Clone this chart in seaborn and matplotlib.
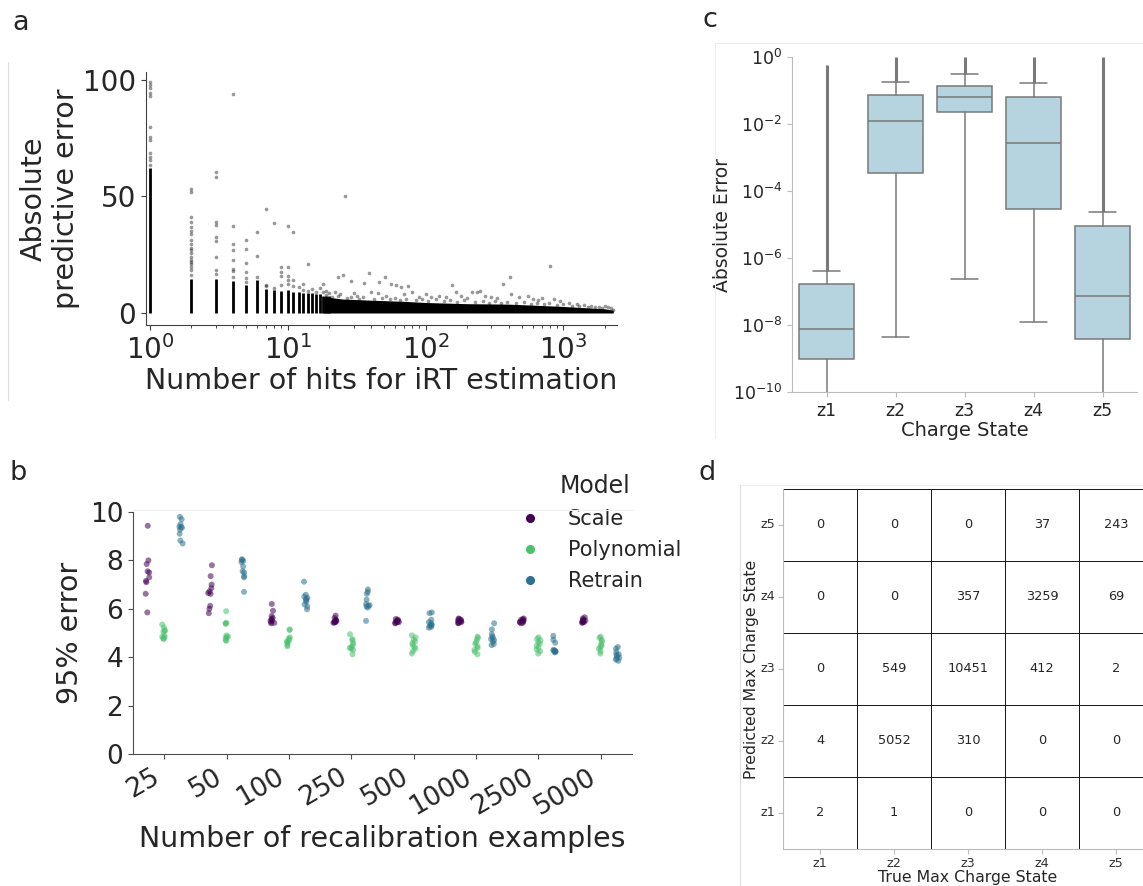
import numpy as np
import pandas as pd
import matplotlib
matplotlib.use("Agg")
import matplotlib.pyplot as plt
from matplotlib.colors import ListedColormap
from matplotlib.lines import Line2D
from matplotlib.ticker import NullLocator
import seaborn as sns

# ---------------- Panel a data ----------------
col_hits = [1, 2, 3, 4, 5, 6, 7, 8, 9, 10, 11, 12, 13, 14, 15, 16, 17, 18, 19, 20]
col_dense_top = [62, 14.5, 14.8, 13.8, 12, 14, 10.5, 10, 9.5, 10, 9, 9, 8.5, 8.5, 8.5, 8, 8, 7.5, 7.5, 7.2]
band_hits = [18, 25, 40, 70, 100, 200, 400, 700, 1000, 1500, 2000, 2300]
band_top = [7, 6, 5.5, 5, 4.5, 4, 3.8, 3.2, 2.8, 2.2, 1.8, 1.2]

col_outliers = {
    1: [99.3, 97.9, 96.4, 94.3, 92.9, 80, 75.7, 74.3, 68.6, 67.1, 65.7, 63.6],
    2: [53, 51.8, 41.2, 39, 36.9, 35.2, 34.1, 31.2, 29.8, 28.1, 27, 25.6, 24.1, 22.7, 22, 21, 19.6, 18.5, 16.3],
    3: [60.4, 58.2, 39, 37.6, 32.7, 31, 24, 18.5, 16.8],
    4: [94, 37.2, 29.8, 27, 22.7, 19, 18, 15.5],
    5: [31.5, 27.3, 21.3, 17.8, 15, 13.5],
    6: [34.8, 24.4, 15.5],
    7: [44.7, 12, 11.5],
    8: [38.4, 10.8],
    9: [19.9, 17.8, 16, 12],
    10: [37.4, 19.8, 16, 14, 12.5],
    11: [34.8, 14, 11.5],
    12: [11],
    13: [12.5, 10],
    14: [21, 9.5],
    15: [10.5],
    16: [9],
    17: [10.7],
    18: [12.3, 9],
    19: [9.5],
    20: [8.5],
}
scatter_hits = [22, 23.3, 25, 26, 24, 28.7, 30, 32, 36, 38.9, 40, 45, 46, 50.5, 52, 56, 61, 66.5, 74, 70,
                80, 90, 100, 110, 125, 140, 156, 165, 180, 200, 218, 236, 250, 270, 300, 330, 365, 410, 420,
                480, 550, 600, 650, 700, 800, 850, 950, 1100, 1250, 1400, 1600, 1800, 2000, 2200, 2300,
                19, 21, 23, 27, 29, 33, 35, 42, 48, 55, 60, 65, 72, 85, 95, 105, 120, 135, 150, 170, 190,
                230, 260, 290, 320, 350, 390, 450, 520, 580, 640, 720, 780, 900, 1000, 1150, 1300, 1500,
                1700, 1900, 2100]
scatter_err = [9.2, 15.3, 16.2, 50.4, 8, 13.6, 8.5, 7.2, 13, 17.3, 9, 8.5, 13.3, 15.6, 7.5, 12.6, 12.2, 11, 11.5, 8,
               9, 7, 8.2, 6.8, 7.5, 7, 11.8, 9, 7.5, 6.5, 8.8, 8.8, 9.5, 7.2, 7, 6.5, 12.4, 15.3, 8,
               6.8, 7.5, 6, 5.5, 6.5, 20, 5.8, 5, 4.5, 3.8, 3.5, 3.2, 2.5, 3, 2.2, 1.2,
               7.8, 6.8, 7.5, 6.5, 7, 6.2, 6.8, 6, 6.5, 5.8, 6.4, 5.6, 6.2, 5.5, 6, 5.2, 5.8, 5, 5.5, 4.8, 5.5,
               4.6, 5.2, 4.5, 5, 4.4, 4.8, 4.2, 4.6, 4, 4.4, 3.8, 4.2, 3.6, 3.8, 3.2, 2.8, 2.6,
               2.4, 2.1, 2.6]

# ---------------- Panel b data ----------------
recal_n = ["25", "50", "100", "250", "500", "1000", "2500", "5000"]
models = ["Scale", "Polynomial", "Retrain"]
scale_err = [
    [9.43, 8.0, 7.85, 7.55, 7.5, 7.3, 7.15, 7.1, 6.62, 5.85],
    [7.8, 7.35, 7.0, 6.85, 6.72, 6.65, 6.62, 6.12, 6.0, 5.82],
    [6.2, 5.92, 5.7, 5.62, 5.58, 5.52, 5.5, 5.45, 5.42, 5.4],
    [5.72, 5.62, 5.55, 5.52, 5.5, 5.48, 5.46, 5.45, 5.44, 5.42],
    [5.58, 5.55, 5.52, 5.5, 5.48, 5.47, 5.45, 5.44, 5.42, 5.4],
    [5.6, 5.58, 5.55, 5.52, 5.5, 5.48, 5.45, 5.44, 5.42, 5.4],
    [5.6, 5.57, 5.55, 5.52, 5.5, 5.48, 5.46, 5.44, 5.42, 5.4],
    [5.65, 5.6, 5.55, 5.52, 5.5, 5.48, 5.46, 5.45, 5.44, 5.42],
]
poly_err = [
    [5.35, 5.22, 5.12, 5.05, 5.08, 4.88, 4.85, 4.82, 4.78, 4.75],
    [5.9, 5.42, 5.4, 5.38, 4.9, 4.85, 4.82, 4.8, 4.7, 4.68],
    [5.15, 5.12, 4.82, 4.78, 4.7, 4.65, 4.62, 4.6, 4.5, 4.45],
    [4.95, 4.75, 4.7, 4.58, 4.5, 4.42, 4.38, 4.35, 4.3, 4.12],
    [4.9, 4.82, 4.72, 4.65, 4.58, 4.5, 4.42, 4.35, 4.25, 4.15],
    [4.85, 4.8, 4.72, 4.62, 4.55, 4.45, 4.38, 4.3, 4.22, 4.12],
    [4.82, 4.75, 4.7, 4.62, 4.55, 4.48, 4.4, 4.32, 4.25, 4.15],
    [4.85, 4.8, 4.72, 4.65, 4.55, 4.48, 4.42, 4.35, 4.25, 4.15],
]
retrain_err = [
    [9.8, 9.7, 9.5, 9.4, 9.38, 9.35, 9.27, 9.1, 8.82, 8.7],
    [8.05, 8.02, 7.98, 7.93, 7.75, 7.55, 7.5, 7.35, 7.3, 6.7],
    [7.12, 6.58, 6.5, 6.45, 6.4, 6.35, 6.3, 6.18, 6.1, 5.98],
    [6.8, 6.7, 6.62, 6.38, 6.2, 6.15, 6.12, 6.1, 6.05, 5.5],
    [5.85, 5.82, 5.55, 5.45, 5.4, 5.35, 5.32, 5.3, 5.25, 5.22],
    [5.4, 5.15, 4.95, 4.85, 4.8, 4.75, 4.7, 4.65, 4.55, 4.5],
    [4.88, 4.72, 4.6, 4.3, 4.28, 4.27, 4.25, 4.24, 4.22, 4.2],
    [4.42, 4.35, 4.2, 4.12, 4.1, 4.05, 3.98, 3.95, 3.9, 3.85],
]
model_colors = {"Scale": "#440154", "Polynomial": "#4ac16d", "Retrain": "#2c718e"}

# ---------------- Panel c data ----------------
charge_states = ["z1", "z2", "z3", "z4", "z5"]
box_q1 = [9.6e-10, 3.5e-4, 2.3e-2, 2.9e-5, 3.8e-9]
box_med = [7.6e-9, 1.24e-2, 6.2e-2, 2.7e-3, 7.4e-8]
box_q3 = [1.7e-7, 7.2e-2, 0.14, 6.6e-2, 9.3e-6]
whisk_lo = [1e-11, 4.4e-9, 2.4e-7, 1.25e-8, 1e-11]
whisk_hi = [4.2e-7, 0.18, 0.32, 0.17, 2.3e-5]
flier_max = [0.56, 1.0, 1.0, 1.0, 1.0]

# ---------------- Panel d data ----------------
pred_labels = ["z5", "z4", "z3", "z2", "z1"]
true_labels = ["z1", "z2", "z3", "z4", "z5"]
conf_counts = [
    [0, 0, 0, 37, 243],
    [0, 0, 357, 3259, 69],
    [0, 549, 10451, 412, 2],
    [4, 5052, 310, 0, 0],
    [2, 1, 0, 0, 0],
]

# ---------------- Figure ----------------
sns.set_style("ticks")
plt.rcParams["font.family"] = ["DejaVu Sans"]
np.random.seed(3)

W, H = 1143, 886
fig = plt.figure(figsize=(W / 100, H / 100), dpi=100)


def rect(l, r, t, b):
    return [l / W, 1 - b / H, (r - l) / W, (b - t) / H]


def fline(x0, y0, x1, y1, c="#dddddd", lw=0.8):
    fig.add_artist(Line2D([x0 / W, x1 / W], [1 - y0 / H, 1 - y1 / H],
                          transform=fig.transFigure, color=c, lw=lw))


# faint panel frames
fline(8, 62, 8, 400)
fline(133, 510, 633, 510, c="#f0f0f0")
fline(715, 43, 1143, 43, c="#eeeeee")
fline(715, 43, 715, 438, c="#eeeeee")
fline(740, 485, 1143, 485, c="#eeeeee")
fline(740, 485, 740, 886, c="#dddddd")

# ---------- a ----------
axa = fig.add_axes(rect(146, 617, 72, 325))
axa.set_xscale("log")
axa.vlines(col_hits, 0, col_dense_top, color="black", lw=2.0)
axa.fill_between(band_hits, 0, band_top, color="black", lw=0)
out_h, out_e = [], []
for h, vals in col_outliers.items():
    out_h += [h] * len(vals)
    out_e += vals
sns.scatterplot(x=out_h + scatter_hits, y=out_e + scatter_err, color="black", alpha=0.4,
                s=7, linewidth=0, ax=axa)
axa.set_xlim(0.936, 2450)
axa.set_ylim(-5.15, 103.4)
axa.set_yticks([0, 50, 100])
axa.tick_params(labelsize=20, color="0.25")
axa.set_xlabel("Number of hits for iRT estimation", fontsize=20.5, labelpad=2)
axa.set_ylabel("Absolute\npredictive error", fontsize=20.5, labelpad=2)
for s in ["top", "right"]:
    axa.spines[s].set_visible(False)
for s in ["left", "bottom"]:
    axa.spines[s].set_color("0.25")

# ---------- b ----------
axb = fig.add_axes(rect(133, 632, 512, 754))
rows = []
for model, vals in zip(models, [scale_err, poly_err, retrain_err]):
    for n, reps in zip(recal_n, vals):
        for v in reps:
            rows.append((n, model, v))
df_b = pd.DataFrame(rows, columns=["n", "Model", "err"])
sns.stripplot(data=df_b, x="n", y="err", hue="Model", order=recal_n, hue_order=models,
              palette=model_colors, dodge=True, size=4.3, alpha=0.55, linewidth=0,
              jitter=True, legend=False, ax=axb)
axb.set_xlim(-0.5, 7.5)
axb.set_ylim(0, 10)
axb.set_yticks([0, 2, 4, 6, 8, 10])
axb.tick_params(labelsize=19, color="0.3")
plt.setp(axb.get_xticklabels(), rotation=30, ha="right")
axb.set_xlabel("Number of recalibration examples", fontsize=20.5)
axb.set_ylabel("95% error", fontsize=20.5)
for s in ["top", "right"]:
    axb.spines[s].set_visible(False)
for s in ["left", "bottom"]:
    axb.spines[s].set_color("0.3")
handles = [Line2D([], [], marker="o", ls="", color=model_colors[m], markersize=5.5) for m in models]
axb.legend(handles, models, title="Model", frameon=False, fontsize=15, title_fontsize=17,
           loc="upper left", bbox_to_anchor=(501 / W, 1 - 466 / H), labelspacing=0.52,
           bbox_transform=fig.transFigure, borderaxespad=0)

# ---------- c ----------
axc = fig.add_axes(rect(792, 1137, 57, 392))
axc.set_yscale("log")
stats = []
for i, z in enumerate(charge_states):
    stats.append(dict(label=z, q1=box_q1[i], med=box_med[i], q3=box_q3[i],
                      whislo=whisk_lo[i], whishi=whisk_hi[i], fliers=[]))
box_line = "#797979"
axc.vlines(range(len(charge_states)), whisk_hi, flier_max, color=box_line, lw=2.2, zorder=1)
axc.bxp(stats, positions=range(len(charge_states)), widths=0.8, patch_artist=True,
        showfliers=False,
        boxprops=dict(facecolor="#b5d4df", edgecolor=box_line, linewidth=1.1),
        medianprops=dict(color=box_line, linewidth=1.1),
        whiskerprops=dict(color=box_line, linewidth=1.1),
        capprops=dict(color=box_line, linewidth=1.1))
axc.set_xlim(-0.5, 4.5)
axc.set_ylim(1e-10, 1)
axc.set_yticks([1e0, 1e-2, 1e-4, 1e-6, 1e-8, 1e-10])
axc.yaxis.set_minor_locator(NullLocator())
axc.set_xticks(range(5))
axc.set_xticklabels(charge_states)
axc.tick_params(labelsize=12.5, color="#bbbbbb", labelcolor="#262626")
axc.set_xlabel("Charge State", fontsize=14, color="#262626", labelpad=1)
axc.set_ylabel("Absolute Error", fontsize=13.5, color="#262626", labelpad=1)
for s in ["top", "right"]:
    axc.spines[s].set_visible(False)
for s in ["left", "bottom"]:
    axc.spines[s].set_color("#bbbbbb")

# ---------- d ----------
axd = fig.add_axes(rect(783, 1153, 489, 849))
conf = pd.DataFrame(conf_counts, index=pred_labels, columns=true_labels)
sns.heatmap(conf, annot=True, fmt="d", cmap=ListedColormap(["white"]), cbar=False,
            linewidths=0.5, linecolor="#1a1a1a", annot_kws=dict(size=9.3), ax=axd)
axd.set_yticklabels(pred_labels, rotation=0)
axd.tick_params(labelsize=9.3, color="#bbbbbb", labelcolor="#333333", length=3.5, pad=2)
axd.set_xlabel("True Max Charge State", fontsize=11.3, color="#262626", labelpad=0)
axd.set_ylabel("Predicted Max Charge State", fontsize=11.3, color="#262626", labelpad=1)
for s in ["left", "bottom"]:
    axd.spines[s].set_visible(True)
    axd.spines[s].set_color("#bbbbbb")
    axd.spines[s].set_zorder(5)

# panel letters
fig.text(12 / W, 1 - 30 / H, "a", fontsize=19.5, va="baseline")
fig.text(9 / W, 1 - 480 / H, "b", fontsize=19.5, va="baseline")
fig.text(702 / W, 1 - 27 / H, "c", fontsize=19.5, va="baseline")
fig.text(698 / W, 1 - 480 / H, "d", fontsize=19.5, va="baseline")

fig.savefig("out.png", dpi=100)
